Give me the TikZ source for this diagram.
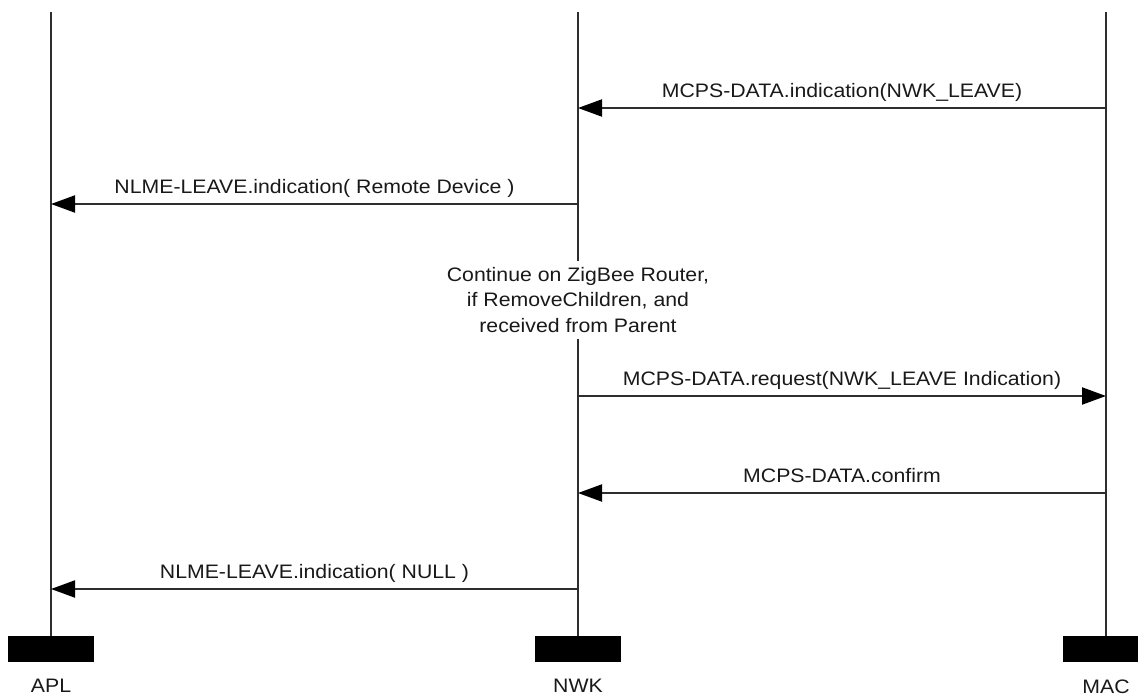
\documentclass[tikz,border=0pt]{standalone}
\usepackage{fontspec}
\setmainfont{Liberation Sans}[FakeStretch=1.09]
\usetikzlibrary{arrows.meta, positioning}

\begin{document}
\begin{tikzpicture}[x=1pt, y=-1pt, >={Triangle[length=24pt, width=17pt, color=black]},
  every node/.style={font=\fontsize{19.5}{25.5}\selectfont, text=black!90},
  life/.style={line width=2pt, draw=black!82},
  msg/.style={->, line width=2pt, draw=black!82},
  bar/.style={fill=black, minimum width=86pt, minimum height=26pt, inner sep=0pt},
  lbl/.style={above=9.5pt, inner sep=0pt, text depth=0pt}]
  \clip (0,0) rectangle (1138,698);
  % lifelines
  \coordinate (apl) at (51,12);
  \coordinate (nwk) at (578,12);
  \coordinate (mac) at (1106,12);
  \node[bar] (aplbar) at (51,649) {};
  \node[bar] (nwkbar) at (578,649) {};
  \node[bar] (macbar) at (1106,649) {};
  \draw[life] (apl) -- (aplbar.north);
  \draw[life] (nwk) -- (nwkbar.north);
  \draw[life] (mac) -- (macbar.north);
  \node[inner sep=0pt, text depth=0pt, below=17pt of aplbar] (apllbl) {APL};
  \node[inner sep=0pt, text depth=0pt, below=17pt of nwkbar] (nwklbl) {NWK};
  \node[inner sep=0pt, text depth=0pt, below=17pt of macbar] (maclbl) {MAC};
  % message rows
  \coordinate (r1) at (0,108);
  \coordinate (r2) at (0,204);
  \coordinate (r3) at (0,396);
  \coordinate (r4) at (0,493);
  \coordinate (r5) at (0,589);
  \node[fill=white, align=center, inner sep=6pt] (note) at (578,300) {Continue on ZigBee Router,\\if RemoveChildren, and\\received from Parent};
  \draw[msg] (mac |- r1) -- (nwk |- r1) node[midway, lbl] {MCPS-DATA.indication(NWK\_LEAVE)};
  \draw[msg] (nwk |- r2) -- (apl |- r2) node[midway, lbl] {NLME-LEAVE.indication( Remote Device )};
  \draw[msg] (nwk |- r3) -- (mac |- r3) node[midway, lbl] {MCPS-DATA.request(NWK\_LEAVE Indication)};
  \draw[msg] (mac |- r4) -- (nwk |- r4) node[midway, lbl] {MCPS-DATA.confirm};
  \draw[msg] (nwk |- r5) -- (apl |- r5) node[midway, lbl] {NLME-LEAVE.indication( NULL )};
\end{tikzpicture}
\end{document}
